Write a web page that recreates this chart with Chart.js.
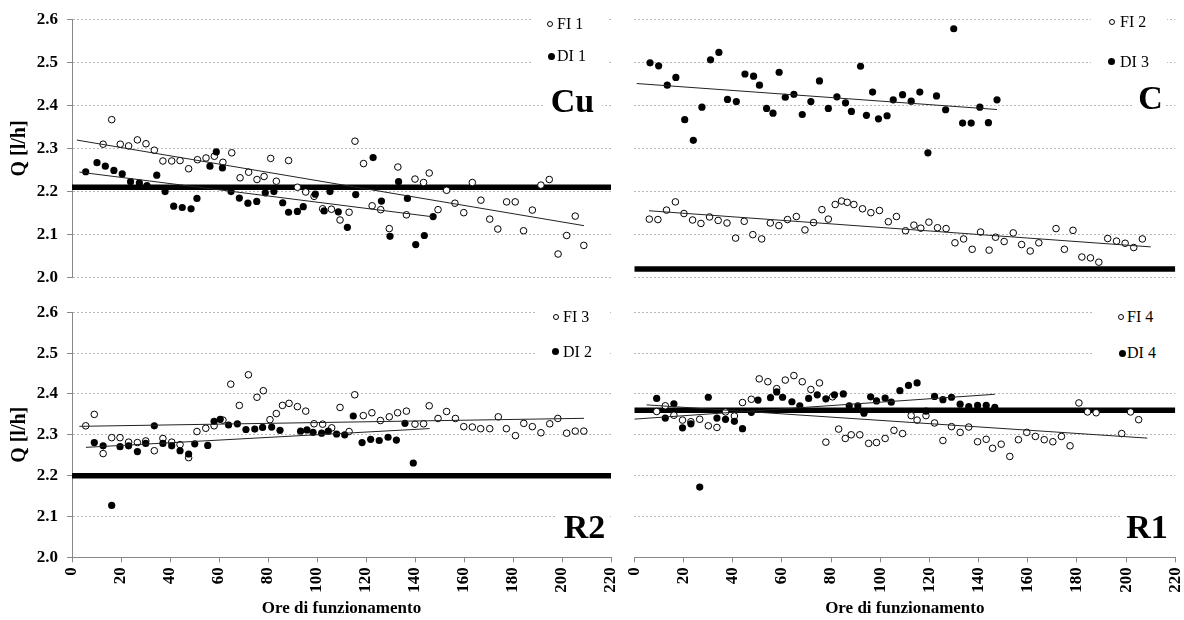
<!DOCTYPE html>
<html><head><meta charset="utf-8">
<script src="https://cdn.jsdelivr.net/npm/chart.js@4.4.1/dist/chart.umd.min.js"></script>
<style>
html,body{margin:0;padding:0;background:#fff;}
#wrap{position:relative;width:1184px;height:620px;overflow:hidden;font-family:"Liberation Serif","Times New Roman",serif;}
canvas{position:absolute;}
.box{position:absolute;background:#fff;}
.txt{position:absolute;white-space:nowrap;color:#000;}
.mk{position:absolute;border-radius:50%;box-sizing:border-box;}
</style></head><body><div id="wrap"></div>
<script>
// ---------- axis ticks ----------
const xTickValues = [0,20,40,60,80,100,120,140,160,180,200,220];
const xTickLabels = ['0','20','40','60','80','100','120','140','160','180','200','220'];
const yTickValues = [2.0,2.1,2.2,2.3,2.4,2.5,2.6];
const yTickLabels = ['2.0','2.1','2.2','2.3','2.4','2.5','2.6'];
const xTitle = 'Ore di funzionamento';
const yTitle = 'Q [l/h]';

// ---------- panel Cu ----------
const hoursFI1 = [12.7,16.2,19.7,23.1,26.7,30.2,33.6,37.1,40.7,44.1,47.6,51.2,54.7,58.1,61.6,65.2,68.6,72.1,75.5,78.4,81.1,83.4,88.4,92.0,95.4,98.8,102.3,105.9,109.4,113.1,115.5,119.0,122.5,126.0,129.5,133.0,136.5,140.0,143.5,145.8,149.4,152.9,156.3,159.9,163.4,166.9,170.5,173.8,177.4,180.9,184.3,187.9,191.4,194.8,198.4,201.9,205.4,208.9];
const qFI1 = [2.310,2.367,2.310,2.306,2.320,2.311,2.296,2.271,2.271,2.272,2.253,2.274,2.278,2.282,2.268,2.290,2.232,2.245,2.228,2.235,2.277,2.224,2.272,2.210,2.199,2.189,2.160,2.159,2.134,2.152,2.317,2.265,2.167,2.158,2.114,2.257,2.146,2.229,2.221,2.243,2.158,2.203,2.173,2.151,2.221,2.180,2.136,2.113,2.176,2.176,2.109,2.157,2.215,2.228,2.055,2.098,2.143,2.075];
const hoursDI1 = [5.6,10.2,13.6,17.1,20.5,23.9,27.5,30.6,34.6,38.0,41.5,45.0,48.6,51.0,56.3,58.9,61.4,64.9,68.3,71.8,75.4,78.9,82.4,86.0,88.4,92.0,94.4,99.3,102.9,105.3,108.7,112.4,115.8,122.9,126.3,129.8,133.3,136.9,140.3,143.8,147.4];
const qDI1 = [2.246,2.267,2.259,2.249,2.241,2.223,2.220,2.214,2.238,2.200,2.166,2.163,2.160,2.184,2.259,2.292,2.255,2.200,2.185,2.173,2.177,2.197,2.200,2.174,2.152,2.154,2.165,2.194,2.155,2.200,2.153,2.117,2.193,2.279,2.178,2.096,2.223,2.184,2.077,2.098,2.142];
const trendRangeFI1 = [2, 209];
const trendRangeDI1 = [3, 147];
const limitCu = 2.21;

// ---------- panel C ----------
const hoursFI2 = [6.1,9.6,13.1,16.7,20.2,23.7,27.1,30.6,34.1,37.7,41.2,44.7,48.2,51.8,55.3,58.8,62.3,65.9,69.4,72.9,76.3,78.9,81.7,84.3,86.6,89.3,92.8,96.2,99.7,103.3,106.6,110.3,113.7,116.5,119.8,123.3,126.8,130.4,133.9,137.4,140.8,144.3,146.9,150.4,154.1,157.5,161.0,164.5,171.5,174.9,178.4,182.0,185.5,188.9,192.5,196.1,199.6,203.1,206.6];
const qFI2 = [2.136,2.135,2.157,2.176,2.149,2.134,2.126,2.141,2.133,2.127,2.092,2.131,2.100,2.090,2.127,2.121,2.135,2.142,2.111,2.128,2.158,2.136,2.170,2.178,2.175,2.170,2.160,2.151,2.156,2.130,2.142,2.109,2.122,2.115,2.129,2.116,2.114,2.081,2.090,2.066,2.106,2.064,2.094,2.084,2.104,2.077,2.062,2.081,2.114,2.066,2.110,2.048,2.046,2.036,2.091,2.085,2.080,2.070,2.090];
const hoursDI3 = [6.4,9.9,13.4,16.9,20.5,24.0,27.5,31.0,34.4,37.9,41.5,45.0,48.5,50.9,53.8,56.4,58.9,61.4,64.9,68.3,71.8,75.3,78.9,82.4,85.9,88.3,92.0,94.4,96.9,99.3,102.8,105.3,109.1,112.6,116.1,119.4,122.9,126.6,129.9,133.5,137.0,140.5,144.0,147.5];
const qDI3 = [2.499,2.492,2.447,2.465,2.367,2.319,2.396,2.506,2.523,2.414,2.409,2.473,2.468,2.447,2.393,2.382,2.477,2.419,2.426,2.379,2.409,2.457,2.393,2.420,2.406,2.386,2.491,2.377,2.431,2.369,2.376,2.413,2.425,2.410,2.431,2.290,2.422,2.390,2.578,2.359,2.359,2.396,2.360,2.413];
const trendRangeFI2 = [6, 210];
const trendRangeDI3 = [1, 147.5];
const limitC = 2.02;

// ---------- panel R2 ----------
const hoursFI3 = [5.6,9.1,12.7,16.2,19.6,23.1,26.7,30.1,33.6,37.1,40.7,44.1,47.6,51.0,54.6,58.0,61.6,64.8,68.3,72.0,75.5,78.1,80.8,83.4,85.9,88.6,92.0,95.4,98.8,102.3,106.0,109.4,113.1,115.4,118.9,122.4,125.9,129.5,132.9,136.5,140.0,143.5,145.8,149.4,152.9,156.5,159.9,163.4,166.8,170.5,174.0,177.3,181.0,184.4,187.9,191.4,195.0,198.3,201.9,205.4,208.9];
const qFI3 = [2.322,2.350,2.254,2.293,2.293,2.282,2.281,2.285,2.261,2.291,2.282,2.276,2.244,2.308,2.316,2.322,2.336,2.424,2.372,2.447,2.392,2.408,2.337,2.352,2.372,2.377,2.369,2.358,2.327,2.326,2.317,2.367,2.308,2.398,2.347,2.354,2.335,2.344,2.354,2.358,2.326,2.327,2.371,2.340,2.357,2.340,2.320,2.319,2.315,2.315,2.344,2.315,2.298,2.328,2.320,2.305,2.327,2.340,2.304,2.309,2.309];
const hoursDI2 = [9.1,12.7,16.2,19.6,23.1,26.7,30.1,33.6,37.1,40.7,44.1,47.6,50.1,55.4,58.0,60.5,63.9,67.5,71.0,74.6,77.8,81.5,84.9,93.3,95.9,98.4,101.9,104.6,108.0,111.3,114.8,118.4,121.9,125.4,129.0,132.4,135.9,139.3];
const qDI2 = [2.281,2.273,2.127,2.271,2.273,2.259,2.279,2.322,2.279,2.273,2.261,2.253,2.278,2.274,2.333,2.338,2.324,2.327,2.313,2.314,2.318,2.319,2.311,2.309,2.312,2.306,2.304,2.309,2.302,2.300,2.346,2.281,2.289,2.286,2.294,2.287,2.328,2.231];
const trendRangeFI3 = [3, 209];
const trendRangeDI2 = [5.7, 146];
const limitR2 = 2.20;

// ---------- panel R1 ----------
const hoursFI4 = [9.1,12.6,16.1,19.6,23.0,26.6,30.1,33.6,37.1,40.7,44.0,47.6,50.8,54.3,57.9,61.4,64.9,68.3,71.8,75.3,77.9,80.6,83.1,85.8,88.2,91.7,95.3,98.5,102.0,105.6,109.1,112.6,115.0,118.6,122.1,125.5,129.0,132.5,136.0,139.6,143.1,145.7,149.2,152.7,156.2,159.6,163.1,166.7,170.2,173.7,177.2,180.8,184.3,187.8,198.2,201.8,205.1];
const qFI4 = [2.357,2.371,2.348,2.336,2.332,2.338,2.322,2.318,2.356,2.346,2.379,2.387,2.437,2.430,2.413,2.434,2.445,2.430,2.411,2.427,2.282,2.393,2.314,2.291,2.300,2.300,2.279,2.281,2.291,2.311,2.303,2.347,2.336,2.347,2.329,2.286,2.320,2.306,2.319,2.283,2.289,2.267,2.277,2.247,2.288,2.306,2.296,2.288,2.283,2.296,2.273,2.378,2.356,2.354,2.303,2.356,2.337];
const hoursDI4 = [9.1,12.6,16.1,19.6,23.0,26.6,30.1,33.6,37.1,40.7,44.0,47.6,50.3,55.4,57.9,60.3,64.1,67.3,70.9,74.4,77.9,81.4,85.0,87.4,90.9,93.4,96.1,98.5,102.0,104.5,108.0,111.5,115.0,118.6,122.1,125.5,129.0,132.5,136.0,139.6,143.1,146.6];
const qDI4 = [2.389,2.341,2.376,2.317,2.327,2.172,2.392,2.341,2.338,2.333,2.315,2.355,2.385,2.391,2.405,2.392,2.381,2.371,2.389,2.398,2.388,2.398,2.400,2.371,2.371,2.353,2.393,2.383,2.390,2.380,2.408,2.421,2.427,2.358,2.394,2.386,2.392,2.375,2.369,2.372,2.372,2.367];
const trendRangeFI4 = [5, 208.6];
const trendRangeDI4 = [0, 146.6];
const limitR1 = 2.36;

// ---------- helpers ----------
Chart.defaults.font.family = '"Liberation Serif","Times New Roman",serif';
Chart.defaults.color = '#000';

function pts(xs, ys){ return xs.map((x,i)=>({x:x, y:ys[i]})); }
function trend(xs, ys, range){
  const n = xs.length;
  let mx=0,my=0; for(let i=0;i<n;i++){mx+=xs[i];my+=ys[i];} mx/=n; my/=n;
  let sxy=0,sxx=0; for(let i=0;i<n;i++){sxy+=(xs[i]-mx)*(ys[i]-my); sxx+=(xs[i]-mx)*(xs[i]-mx);}
  const b = sxy/sxx, a = my - b*mx;
  return range.map(x=>({x:x, y:a+b*x}));
}

const wrap = document.getElementById('wrap');

function makePanel(p){
  const cv = document.createElement('canvas');
  cv.width = p.w; cv.height = p.h;
  cv.style.left = p.left+'px'; cv.style.top = p.top+'px';
  cv.style.width = p.w+'px'; cv.style.height = p.h+'px';
  wrap.appendChild(cv);
  const datasets = [
    {label:'trendFI', data: trend(p.fiX, p.fiY, p.fiRange), showLine:true, pointRadius:0, borderColor:'#222', borderWidth:1, fill:false},
    {label:'trendDI', data: trend(p.diX, p.diY, p.diRange), showLine:true, pointRadius:0, borderColor:'#222', borderWidth:1, fill:false},
    {label:p.diLabel, data: pts(p.diX, p.diY), pointRadius:3.6, pointBorderWidth:0, pointBackgroundColor:'#000', pointBorderColor:'#000', showLine:false},
    {label:p.fiLabel, data: pts(p.fiX, p.fiY), pointRadius:3.3, pointBorderWidth:1, pointBackgroundColor:'#fff', pointBorderColor:'#000', showLine:false},
    {label:'limit', data: [{x:0,y:p.limit},{x:220,y:p.limit}], showLine:true, pointRadius:0, borderColor:'#000', borderWidth:5.5, fill:false}
  ];
  new Chart(cv.getContext('2d'), {
    type:'scatter',
    data:{datasets},
    options:{
      responsive:false, animation:false, devicePixelRatio:1,
      layout:{padding:{left:0,right:p.padR,top:p.padT,bottom:p.padB}},
      plugins:{legend:{display:false}, tooltip:{enabled:false}},
      scales:{
        x:{
          type:'linear', min:0, max:220, display:p.showX,
          afterBuildTicks:s=>{ s.ticks = xTickValues.map(v=>({value:v})); },
          ticks:{callback:(v,i)=>xTickLabels[i], minRotation:90, maxRotation:90, padding:5, color:'#000', font:{size:17, weight:'bold'}},
          grid:{drawOnChartArea:false, drawTicks:true, tickLength:5, tickColor:'#888', lineWidth:1},
          border:{display:true, color:'#888', width:1},
          title:{display:true, text:xTitle, color:'#000', font:{size:17, weight:'bold', lineHeight:1}, padding:{top:0,bottom:3}},
          afterFit:s=>{ if(p.showX){ s.height = p.xH; } s.paddingLeft = 0; s.paddingRight = 0; }
        },
        y:{
          type:'linear', min:2.0, max:2.6,
          afterBuildTicks:s=>{ s.ticks = yTickValues.map(v=>({value:v})); },
          ticks:{display:p.showYLabels, callback:(v,i)=>yTickLabels[i], padding:9, color:'#000', font:{size:17, weight:'bold'}},
          grid:{color:'#b8b8b8', lineWidth:1, drawTicks:p.showYLabels, tickLength:5, tickColor:'#888', tickBorderDash:[]},
          border:{display:p.showYLabels, color:'#888', width:1, dash:[2,2]},
          title:{display:p.showYLabels, text:yTitle, color:'#000', font:{size:20, weight:'bold', lineHeight:1}, padding:{top:10,bottom:0}},
          afterFit:s=>{ s.width = p.yW; s.paddingTop = 0; s.paddingBottom = 0; }
        }
      }
    }
  });
}

function el(cls, css, text){
  const d = document.createElement('div');
  d.className = cls;
  Object.assign(d.style, css);
  if(text !== undefined) d.textContent = text;
  wrap.appendChild(d);
  return d;
}
function legend(L){
  el('box', {left:L.box[0]+'px', top:L.box[1]+'px', width:L.box[2]+'px', height:L.box[3]+'px'});
  el('box', {left:L.lbox[0]+'px', top:L.lbox[1]+'px', width:L.lbox[2]+'px', height:L.lbox[3]+'px'});
  // open marker
  el('mk', {left:(L.fi[0]-3)+'px', top:(L.fi[1]-3)+'px', width:'6px', height:'6px', border:'1px solid #000', background:'#fff'});
  el('txt', {left:L.fi[2]+'px', top:(L.fi[1]-8)+'px', fontSize:'16px', lineHeight:'16px'}, L.fiText);
  el('mk', {left:(L.di[0]-3.5)+'px', top:(L.di[1]-3.5)+'px', width:'7px', height:'7px', background:'#000'});
  el('txt', {left:L.di[2]+'px', top:(L.di[1]-8)+'px', fontSize:'16px', lineHeight:'16px'}, L.diText);
  el('txt', {left:(L.lab[0]-40)+'px', width:'80px', textAlign:'center', top:(L.lab[1]-17)+'px', fontSize:'34px', lineHeight:'34px', fontWeight:'bold'}, L.labText);
}

makePanel({left:0, top:0, w:620, h:290, padT:19.3, padB:12.3, padR:9, yW:72, showX:false, showYLabels:true,
  fiX:hoursFI1, fiY:qFI1, fiRange:trendRangeFI1, diX:hoursDI1, diY:qDI1, diRange:trendRangeDI1, limit:limitCu, fiLabel:'FI 1', diLabel:'DI 1'});
makePanel({left:620, top:0, w:564, h:290, padT:19.3, padB:12.3, padR:8.7, yW:14.3, showX:false, showYLabels:false,
  fiX:hoursFI2, fiY:qFI2, fiRange:trendRangeFI2, diX:hoursDI3, diY:qDI3, diRange:trendRangeDI3, limit:limitC, fiLabel:'FI 2', diLabel:'DI 3'});
makePanel({left:0, top:290, w:620, h:330, padT:22.3, padB:0, padR:9, yW:72, xH:62.7, showX:true, showYLabels:true,
  fiX:hoursFI3, fiY:qFI3, fiRange:trendRangeFI3, diX:hoursDI2, diY:qDI2, diRange:trendRangeDI2, limit:limitR2, fiLabel:'FI 3', diLabel:'DI 2'});
makePanel({left:620, top:290, w:564, h:330, padT:22.3, padB:0, padR:8.7, yW:14.3, xH:62.7, showX:true, showYLabels:false,
  fiX:hoursFI4, fiY:qFI4, fiRange:trendRangeFI4, diX:hoursDI4, diY:qDI4, diRange:trendRangeDI4, limit:limitR1, fiLabel:'FI 4', diLabel:'DI 4'});

legend({box:[531,11,76,60], lbox:[545,88,57,28], fi:[550,24,557], di:[551,56,557], lab:[572.5,101], fiText:'FI 1', diText:'DI 1', labText:'Cu'});
legend({box:[1091,11,76,60], lbox:[1132,86,34,26], fi:[1111.7,21.7,1120], di:[1111.7,61.7,1120], lab:[1150.5,98], fiText:'FI 2', diText:'DI 3', labText:'C'});
legend({box:[537,304,73,58], lbox:[557,513,53,28], fi:[555.7,317.3,563], di:[555.7,351.7,563], lab:[584.5,526.7], fiText:'FI 3', diText:'DI 2', labText:'R2'});
legend({box:[1093,304,87,58], lbox:[1122,513,58,28], fi:[1120.7,317.3,1127], di:[1122,353,1127], lab:[1147,526.7], fiText:'FI 4', diText:'DI 4', labText:'R1'});
</script>
</body></html>
